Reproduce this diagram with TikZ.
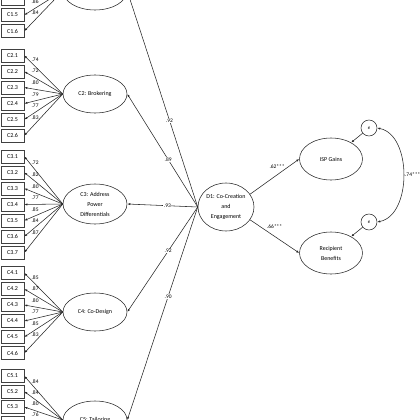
\documentclass[tikz,border=0pt]{standalone}
\usepackage{fontspec}
\setmainfont{Carlito}
\usetikzlibrary{arrows.meta,shapes.geometric}
\begin{document}
\begin{tikzpicture}[x=1pt,y=-1pt,
  ind/.style={draw=black!75,line width=0.7pt,minimum width=23pt,minimum height=13pt,inner sep=0pt,font=\fontsize{6}{7}\selectfont},
  lat/.style={ellipse,draw=black!85,line width=0.55pt,minimum width=64pt,minimum height=38pt,inner sep=0pt,align=center,font=\fontsize{6}{10}\selectfont},
  err/.style={circle,draw=black!85,line width=0.55pt,minimum size=16pt,inner sep=0pt,font=\fontsize{5}{6}\selectfont\itshape},
  arr/.style={-{Latex[length=3pt,width=2.2pt]},line width=0.55pt,draw=black!85},
  dbl/.style={{Latex[length=3pt,width=2.2pt]}-{Latex[length=3pt,width=2.2pt]},line width=0.55pt,draw=black!85},
  lbl/.style={font=\fontsize{5.5}{6}\selectfont,inner sep=0.5pt},
  wl/.style={lbl,fill=white}
]
\useasboundingbox (0,0) rectangle (420,420);
\clip (0,0) rectangle (420,420);

% latent factors
\node[lat] (c1) at (95,-9) {};
\node[lat] (c2) at (95,94) {C2: Brokering};
\node[lat,minimum height=40pt] (c3) at (95,204) {C3: Address\\Power\\Differentials};
\node[lat] (c4) at (95,312) {C4: Co-Design};
\node[lat] (c5) at (95,420) {C5: Tailoring};
\node[lat,minimum width=56pt,minimum height=48pt] (d1) at (226,207) {D1: Co-Creation\\and\\Engagement};
\node[lat,minimum width=63pt,minimum height=42pt] (isp) at (331,159) {ISP Gains};
\node[lat,minimum width=63pt,minimum height=42pt] (rec) at (331,253) {Recipient\\Benefits};
\node[err] (e1) at (369,128) {e};
\node[err] (e2) at (369,222) {e};

% C1 indicators (partly visible)
\node[ind] (c14) at (12.5,-1.5) {C1.4};
\node[ind] (c15) at (12.5,15) {C1.5};
\node[ind] (c16) at (12.5,31) {C1.6};
\draw[arr] (c1.west) -- node[lbl,pos=.72,above=4pt]{.86} (c15.east);
\draw[arr] (c1.west) -- node[lbl,pos=.72,above=4pt]{.84} (c16.east);

% C2 indicators
\foreach \t [count=\i] in {.74,.72,.80,.79,.77,.83} {
  \node[ind] (c2\i) at (12.5,{55.5+16*(\i-1)}) {C2.\i};
  \draw[arr] (c2.west) -- node[lbl,pos=.72,above=4pt]{\t} (c2\i.east);
}
% C3 indicators
\foreach \t [count=\i] in {.72,.82,.80,.77,.85,.84,.87} {
  \node[ind] (c3\i) at (12.5,{156.5+16*(\i-1)}) {C3.\i};
  \draw[arr] (c3.west) -- node[lbl,pos=.72,above=4pt]{\t} (c3\i.east);
}
% C4 indicators
\foreach \t [count=\i] in {.85,.87,.80,.77,.85,.83} {
  \node[ind] (c4\i) at (12.5,{273+16*(\i-1)}) {C4.\i};
  \draw[arr] (c4.west) -- node[lbl,pos=.72,above=4pt]{\t} (c4\i.east);
}
% C5 indicators
\foreach \t [count=\i] in {.84,.84,.80,.76} {
  \node[ind] (c5\i) at (12.5,{376+15.5*(\i-1)}) {C5.\i};
  \draw[arr] (c5.west) -- node[lbl,pos=.72,above=4pt]{\t} (c5\i.east);
}

% second-order loadings
\draw[arr] (d1.west) -- node[wl,pos=.40]{.92} (c1.east);
\draw[arr] (d1.west) -- node[wl,pos=.42]{.89} (c2.east);
\draw[arr] (d1.west) -- node[wl,pos=.43]{.93} (c3.east);
\draw[arr] (d1.west) -- node[wl,pos=.42]{.92} (c4.east);
\draw[arr] (d1.west) -- node[wl,pos=.42]{.90} (c5.east);

% structural paths
\draw[arr] (d1.28) -- node[lbl,pos=.55,above=6pt]{.62***} (isp.west);
\draw[arr] (d1.-28) -- node[lbl,pos=.5,above=7pt]{.66***} (rec.west);
\draw[arr] (e1) -- (isp);
\draw[arr] (e2) -- (rec);
\draw[dbl] (e1.east) .. controls (412,135) and (412,215) .. node[lbl,pos=.5,anchor=west,xshift=1pt]{.74***} (e2.east);
\end{tikzpicture}
\end{document}
